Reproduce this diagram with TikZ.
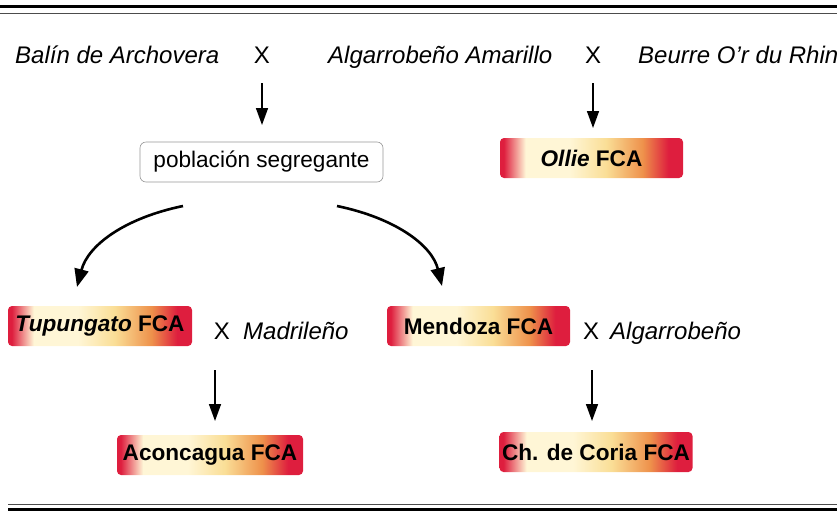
\documentclass[tikz,border=0pt]{standalone}
\usepackage{fontspec}
\setmainfont{Liberation Sans}
\usetikzlibrary{arrows.meta}
\definecolor{fcared}{RGB}{222,30,62}
\definecolor{fcacream}{RGB}{255,246,214}
\definecolor{fcayel}{RGB}{250,222,150}
\definecolor{fcaorange}{RGB}{238,145,75}
\definecolor{boxgray}{RGB}{150,150,150}
\pgfdeclarehorizontalshading{fcashade}{100bp}{color(0bp)=(fcared); color(26bp)=(fcared); color(32bp)=(fcacream); color(44bp)=(fcacream); color(54bp)=(fcayel); color(64bp)=(fcaorange); color(71bp)=(fcared); color(100bp)=(fcared)}
\tikzset{
  parent/.style={font=\fontsize{24}{27}\selectfont\itshape, inner sep=0pt, anchor=base},
  cross/.style={font=\fontsize{24}{27}\selectfont, inner sep=0pt, anchor=base},
  fca/.style={shading=fcashade, rounded corners=4pt, minimum height=40pt, inner sep=0pt,
    font=\fontsize{22.6}{26}\selectfont\bfseries, text=black},
  popbox/.style={draw=boxgray, line width=0.6pt, rounded corners=6pt, minimum height=40pt,
    inner sep=0pt, font=\fontsize{22.6}{26}\selectfont},
  varr/.style={line width=1.6pt, -{Triangle[length=17pt,width=12pt]}},
  carr/.style={line width=2.6pt, -{Triangle[length=18pt,width=14pt]}},
}
\begin{document}
\begin{tikzpicture}[x=1pt,y=-1pt]
\useasboundingbox (0,0) rectangle (837,512);
% rules
\draw[line width=3pt] (0,6.5) -- (837,6.5);
\draw[line width=0.8pt, black!70] (0,13) -- (837,13);
\draw[line width=0.8pt, black!70] (8,504) -- (837,504);
\draw[line width=3pt] (8,509.5) -- (837,509.5);
% row 1
\node[parent, anchor=base west] (balin) at (15,63) {Balín de Archovera};
\node[cross] (x1) at (262,63) {X};
\node[parent, anchor=base west] (algam) at (328,63) {Algarrobeño Amarillo};
\node[cross] (x2) at (593,63) {X};
\node[parent, anchor=base west] (beurre) at (638,63) {Beurre O’r du Rhin};
% row 2
\node[popbox, minimum width=243pt] (pob) at (261.5,162) {población segregante};
\node[fca, minimum width=183pt] (ollie) at (591.5,158) {\textit{Ollie} FCA};
% row 3
\node[fca, minimum width=184pt] (tupu) at (100,326) {\textit{Tupungato} FCA};
\node[cross] (x3) at (222,339) {X};
\node[parent, anchor=base west] (madr) at (243,339) {Madrileño};
\node[fca, minimum width=183pt] (mend) at (478.5,326) {Mendoza FCA};
\node[cross] (x4) at (591,339) {X};
\node[parent, anchor=base west] (algb) at (610,339) {Algarrobeño};
% row 4
\node[fca, minimum width=186pt] (acon) at (210,455) {Aconcagua FCA};
\node[fca, minimum width=193pt] (coria) at (596,452) {Ch. de Coria FCA};
% arrow coordinates
\coordinate (a1s) at (262,83);  \coordinate (a1e) at (262,125);
\coordinate (a2s) at (593,83);  \coordinate (a2e) at (593,128);
\coordinate (cls) at (183,206); \coordinate (cle) at (77,287);
\coordinate (crs) at (337,206); \coordinate (cre) at (442,286);
\coordinate (a3s) at (215,370); \coordinate (a3e) at (215,421);
\coordinate (a4s) at (592,370); \coordinate (a4e) at (592,421);
\draw[varr] (a1s) -- (a1e);
\draw[varr] (a2s) -- (a2e);
\draw[varr] (a3s) -- (a3e);
\draw[varr] (a4s) -- (a4e);
\draw[carr] (cls) .. controls (125,218) and (88,245) .. (cle);
\draw[carr] (crs) .. controls (395,218) and (432,245) .. (cre);
\end{tikzpicture}
\end{document}
